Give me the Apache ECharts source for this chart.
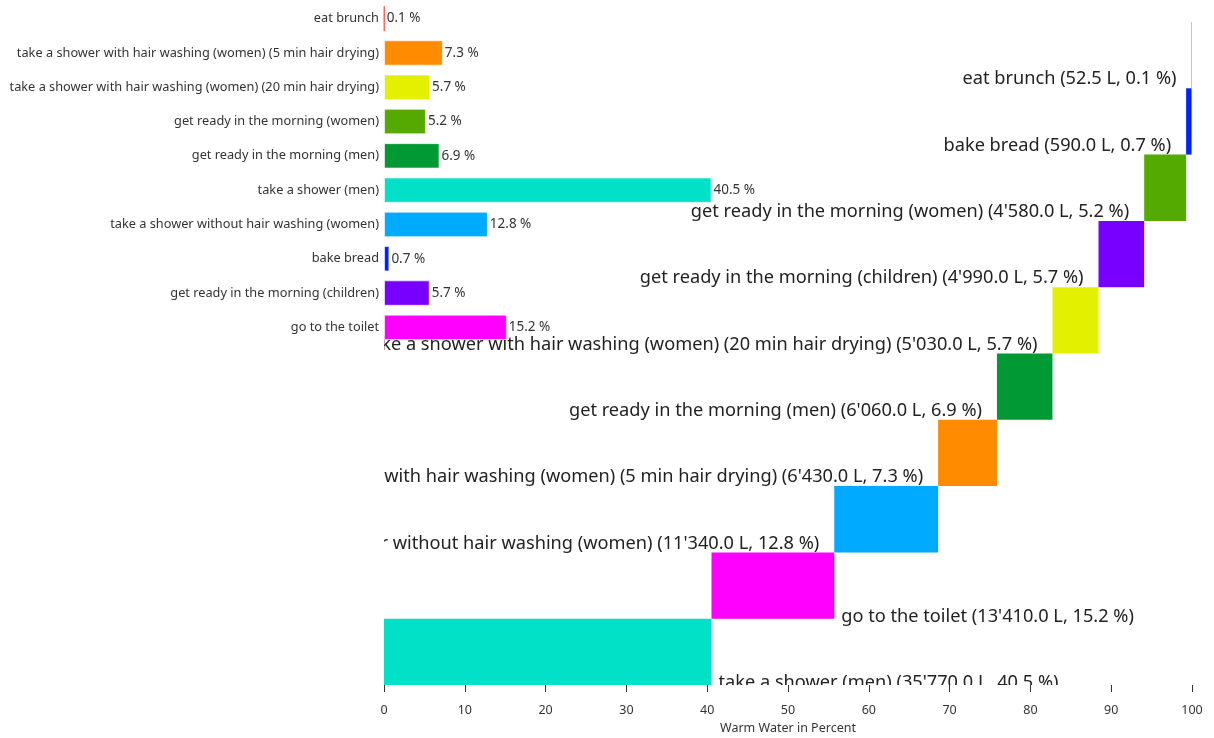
<!DOCTYPE html>
<html>
<head>
<meta charset="utf-8">
<script src="https://cdn.jsdelivr.net/npm/echarts@6/dist/echarts.min.js"></script>
<style>
  html, body { margin: 0; padding: 0; background: #fff; }
  #chart { width: 1214px; height: 738px; }
</style>
</head>
<body>
<div id="chart"></div>
<script>
// Warm water use per activity, in litres
const activities = [
  'take a shower (men)',
  'go to the toilet',
  'take a shower without hair washing (women)',
  'take a shower with hair washing (women) (5 min hair drying)',
  'get ready in the morning (men)',
  'take a shower with hair washing (women) (20 min hair drying)',
  'get ready in the morning (children)',
  'get ready in the morning (women)',
  'bake bread',
  'eat brunch'
];
const litres = [35770, 13410, 11340, 6430, 6060, 5030, 4990, 4580, 590, 52.5];
const colors = ['#00e1c8', '#ff00ff', '#00aaff', '#ff8c00', '#009933', '#e3f000', '#7700ff', '#55aa00', '#0022ff', '#ff5a5a'];

// Order of the small overview bars, top to bottom
const overviewOrder = [
  'eat brunch',
  'take a shower with hair washing (women) (5 min hair drying)',
  'take a shower with hair washing (women) (20 min hair drying)',
  'get ready in the morning (women)',
  'get ready in the morning (men)',
  'take a shower (men)',
  'take a shower without hair washing (women)',
  'bake bread',
  'get ready in the morning (children)',
  'go to the toilet'
];

const FONT = '"Segoe UI", "Noto Sans", sans-serif';
const total = litres.reduce((a, b) => a + b, 0);
const pct = litres.map(v => v / total * 100);

function fmtLitres(v) {
  const [i, d] = v.toFixed(1).split('.');
  return i.replace(/\B(?=(\d{3})+(?!\d))/g, "'") + '.' + d;
}

// cumulative waterfall rows
let acc = 0;
const waterfall = activities.map((name, i) => {
  const start = acc;
  acc += pct[i];
  return [start, acc, i];
});

const overviewData = overviewOrder.map(name => {
  const i = activities.indexOf(name);
  const thin = pct[i] < 0.3;
  return {
    value: pct[i],
    itemStyle: thin
      ? { color: colors[i], borderColor: colors[i], borderWidth: 1 }
      : { color: colors[i], borderColor: 'rgba(255,255,255,0.6)', borderWidth: 1 }
  };
});

const chart = echarts.init(document.getElementById('chart'), null, { renderer: 'canvas' });

chart.setOption({
  animation: false,
  textStyle: { fontFamily: FONT },
  grid: [
    { left: 384, right: 22, top: 22, bottom: 53, outerBoundsMode: 'none', containLabel: false },
    { left: 384, right: 22, top: 1.5, height: 343, outerBoundsMode: 'none', containLabel: false }
  ],
  xAxis: [
    {
      gridIndex: 0, type: 'value', min: 0, max: 100, interval: 10,
      name: 'Warm Water in Percent', nameLocation: 'middle', nameGap: 37,
      nameTextStyle: { color: '#333', fontSize: 12.5, fontFamily: FONT },
      axisLine: { show: false },
      axisTick: { show: true, inside: false, length: 7, lineStyle: { color: '#333', width: 1, opacity: 1 } },
      axisLabel: { show: true, color: '#333', fontSize: 12.5, margin: 19, fontFamily: FONT },
      splitLine: { show: false }
    },
    {
      gridIndex: 1, type: 'value', min: 0, max: 100, show: false
    }
  ],
  yAxis: [
    { gridIndex: 0, type: 'category', data: activities, show: false },
    {
      gridIndex: 1, type: 'category', data: overviewOrder, inverse: true,
      axisLine: { show: false }, axisTick: { show: false },
      axisLabel: { color: '#333', fontSize: 12.75, margin: 5, fontFamily: FONT }
    }
  ],
  series: [
    {
      type: 'custom',
      xAxisIndex: 0, yAxisIndex: 0,
      clip: true,
      encode: { x: [0, 1], y: 2 },
      data: waterfall,
      renderItem(params, api) {
        const start = api.value(0), end = api.value(1), idx = api.value(2);
        const p0 = api.coord([start, idx]);
        const p1 = api.coord([end, idx]);
        const h = api.size([0, 1])[1];
        const bottom = p0[1] + h / 2;
        const onRight = end <= 60;
        const label = activities[idx] + ' (' + fmtLitres(litres[idx]) + ' L, ' + pct[idx].toFixed(1) + ' %)';
        return {
          type: 'group',
          children: [
            {
              type: 'rect',
              shape: { x: p0[0], y: bottom - h, width: p1[0] - p0[0], height: h },
              style: { fill: colors[idx] }
            },
            {
              type: 'text',
              x: onRight ? p1[0] + 7 : p0[0] - 15,
              y: onRight ? bottom - 2 : bottom - 9,
              style: {
                text: label,
                align: onRight ? 'left' : 'right',
                verticalAlign: 'middle',
                font: '18.2px ' + FONT,
                fill: '#222'
              }
            }
          ]
        };
      }
    },
    {
      type: 'bar',
      xAxisIndex: 1, yAxisIndex: 1,
      barCategoryGap: '26%',
      data: overviewData,
      label: {
        show: true, position: 'right', distance: 2,
        color: '#333', fontSize: 13.5, fontFamily: FONT,
        formatter: p => p.value.toFixed(1) + ' %'
      }
    }
  ]
});
</script>
</body>
</html>
